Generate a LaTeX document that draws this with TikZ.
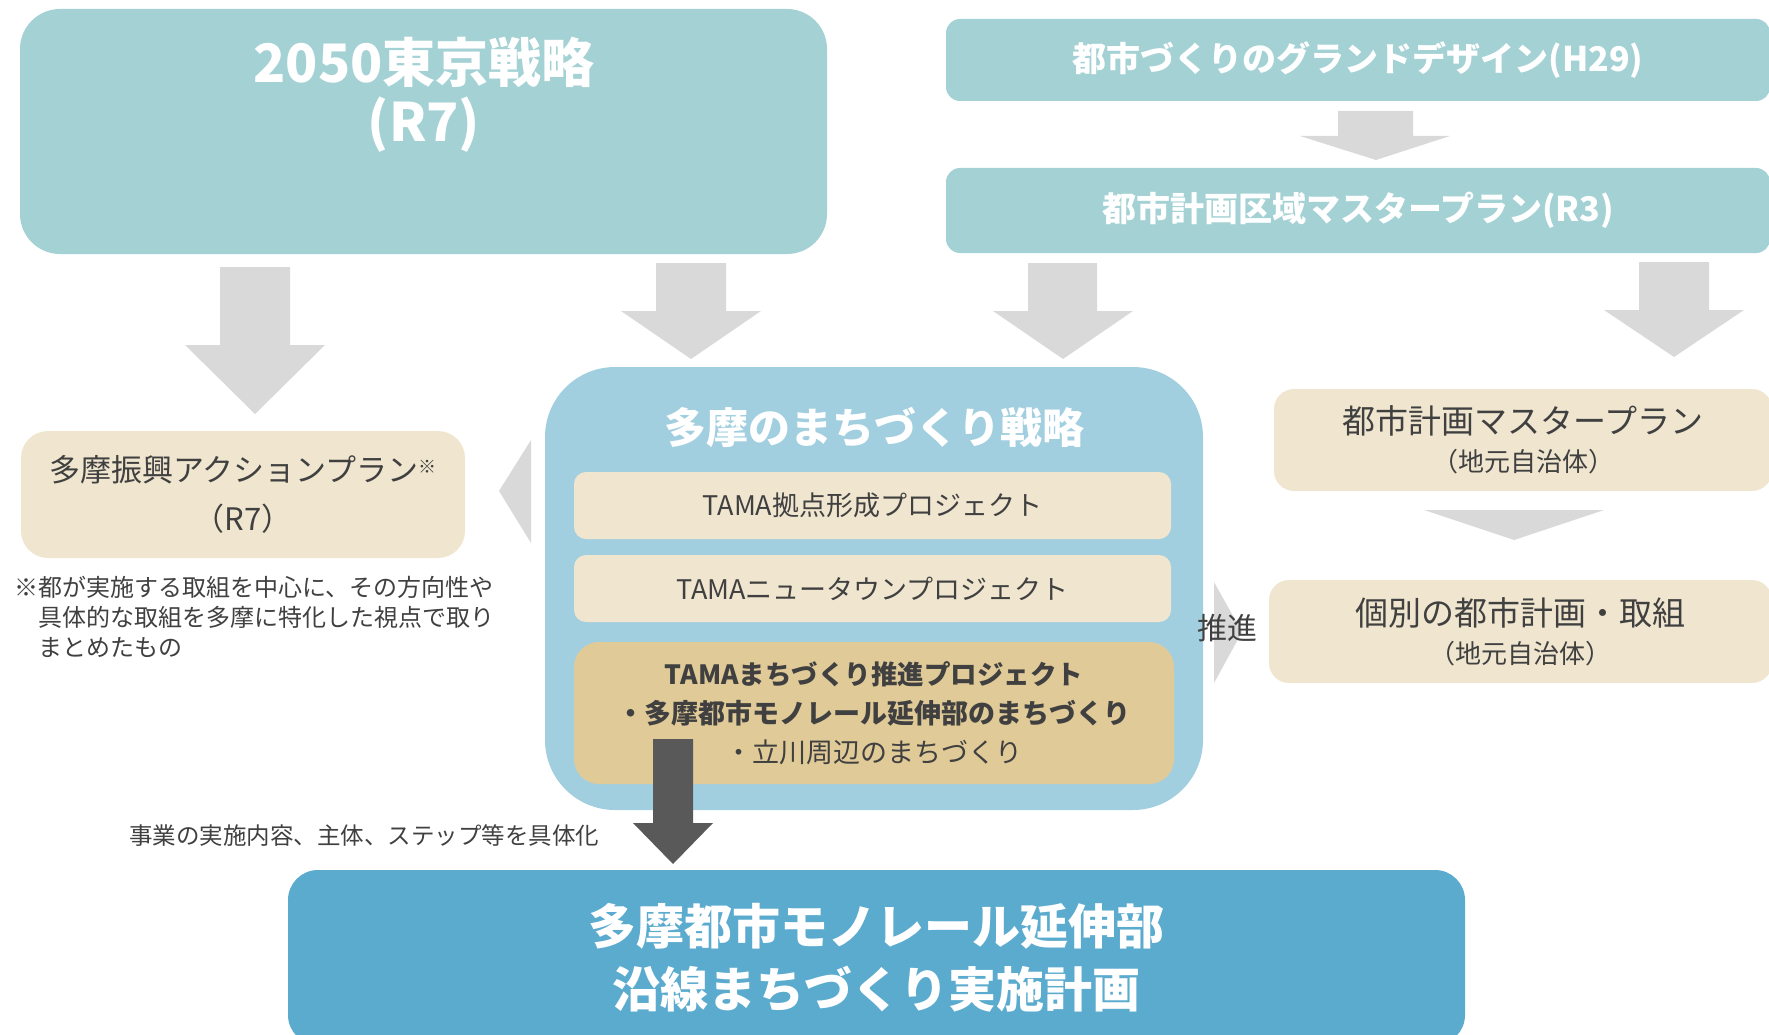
\documentclass[tikz,border=0pt]{standalone}
\usepackage{fontspec}
\setmainfont{Noto Sans CJK JP}
\usetikzlibrary{positioning}

\definecolor{tealbox}{HTML}{A3D1D4}
\definecolor{bluebox}{HTML}{A2CFE0}
\definecolor{beigebox}{HTML}{F0E6D0}
\definecolor{tanbox}{HTML}{E0CA98}
\definecolor{planblue}{HTML}{5BABCF}
\definecolor{arrowgray}{HTML}{D9D9D9}
\definecolor{darkarrow}{HTML}{595959}
\definecolor{darktext}{HTML}{404040}

\tikzset{
  tealhead/.style={fill=tealbox, rounded corners=14, inner sep=0, text=white,
    font=\fontsize{34}{40}\selectfont\bfseries},
  beigeplan/.style={fill=beigebox, rounded corners=20, inner sep=0, text=darktext, align=center,
    font=\fontsize{33}{38}\selectfont},
  project/.style={fill=beigebox, rounded corners=12, inner sep=0, text=darktext,
    minimum width=597, minimum height=67, font=\fontsize{27}{30}\selectfont},
  whitetitle/.style={text=white, align=center, inner sep=0}
}

\begin{document}
\begin{tikzpicture}[x=1pt,y=-1pt]
  \useasboundingbox (0,0) rectangle (1769,1035);
  \clip (0,0) rectangle (1769,1035);

  \node[fill=tealbox, rounded corners=40, minimum width=807, minimum height=245, inner sep=0] (tokyo) at (423.5,131.5) {};
  \node[whitetitle, font=\fontsize{53}{59}\selectfont\bfseries] (tokyotxt) at (424,95) {2050東京戦略\\(R7)};

  \node[tealhead, minimum width=824, minimum height=82] (design) at (1358,60) {都市づくりのグランドデザイン(H29)};
  \node[tealhead, minimum width=824, minimum height=85] (areaplan) at (1358,210.5) {都市計画区域マスタープラン(R3)};

  \fill[arrowgray] (1338,111) -- (1413,111) -- (1413,136) -- (1450,136) -- (1376,160) -- (1300,136) -- (1338,136) -- cycle;
  \fill[arrowgray] (220,267) -- (290,267) -- (290,345) -- (325,345) -- (255,414) -- (185,345) -- (220,345) -- cycle;
  \fill[arrowgray] (656,263) -- (726,263) -- (726,311) -- (761,311) -- (691,359) -- (621,311) -- (656,311) -- cycle;
  \fill[arrowgray] (1028,263) -- (1097,263) -- (1097,311) -- (1133,311) -- (1063,359) -- (993,311) -- (1028,311) -- cycle;
  \fill[arrowgray] (1639,262) -- (1709,262) -- (1709,310) -- (1744,310) -- (1674,357) -- (1604,310) -- (1639,310) -- cycle;

  \node[fill=bluebox, rounded corners=70, minimum width=658, minimum height=443, inner sep=0] (tamastrat) at (874,588.5) {};
  \node[whitetitle, font=\fontsize{42}{48}\selectfont\bfseries] (tamatitle) at (874,427) {多摩のまちづくり戦略};
  \node[project] (kyoten) at (872.5,505.5) {TAMA拠点形成プロジェクト};
  \node[project] (newtown) at (872.5,588.5) {TAMAニュータウンプロジェクト};
  \node[project, fill=tanbox, rounded corners=25, minimum width=600, minimum height=142, align=center,
    font=\fontsize{27}{39}\selectfont] (suishin) at (874,713)
    {\textbf{\fontsize{26.5}{39}\selectfont TAMAまちづくり推進プロジェクト}\\
     \textbf{・多摩都市モノレール延伸部のまちづくり}\\
     ・立川周辺のまちづくり};

  \node[beigeplan, rounded corners=27, minimum width=444, minimum height=127,
    font=\fontsize{31}{49}\selectfont] (action) at (243,494.5)
    {多摩振興アクションプラン\raisebox{8pt}{\fontsize{18}{18}\selectfont ※}\\（R7）};
  \fill[arrowgray] (499,491) -- (531,440) -- (531,543) -- cycle;
  \node[text=darktext, align=left, anchor=west, inner sep=0, font=\fontsize{24}{30}\selectfont] (note) at (14,617)
    {※都が実施する取組を中心に、その方向性や\\
     \phantom{※}具体的な取組を多摩に特化した視点で取り\\
     \phantom{※}まとめたもの};

  \node[beigeplan, minimum width=498, minimum height=102] (cityplan) at (1523,440)
    {都市計画マスタープラン\\{\fontsize{26}{26}\selectfont（地元自治体）}};
  \fill[arrowgray] (1424,510) -- (1604,510) -- (1514,540) -- cycle;
  \node[beigeplan, minimum width=503, minimum height=103] (kobetsu) at (1520.5,631.5)
    {個別の都市計画・取組\\{\fontsize{26}{26}\selectfont（地元自治体）}};
  \fill[arrowgray] (1214,582) -- (1242,632) -- (1214,683) -- cycle;
  \node[text=darktext, inner sep=0, font=\fontsize{30}{34}\selectfont] (push) at (1227,628) {推進};

  \node[fill=planblue, rounded corners=30, minimum width=1177, minimum height=175, inner sep=0,
    text=white, align=center, font=\fontsize{48}{63}\selectfont\bfseries] (monorail) at (876.5,957.5)
    {多摩都市モノレール延伸部\\沿線まちづくり実施計画};
  \fill[darkarrow] (653,739) -- (693,739) -- (693,823) -- (713,823) -- (673,864) -- (633,823) -- (653,823) -- cycle;
  \node[text=darktext, inner sep=0, font=\fontsize{23.5}{28}\selectfont] (gutaika) at (364,836) {事業の実施内容、主体、ステップ等を具体化};
\end{tikzpicture}
\end{document}
